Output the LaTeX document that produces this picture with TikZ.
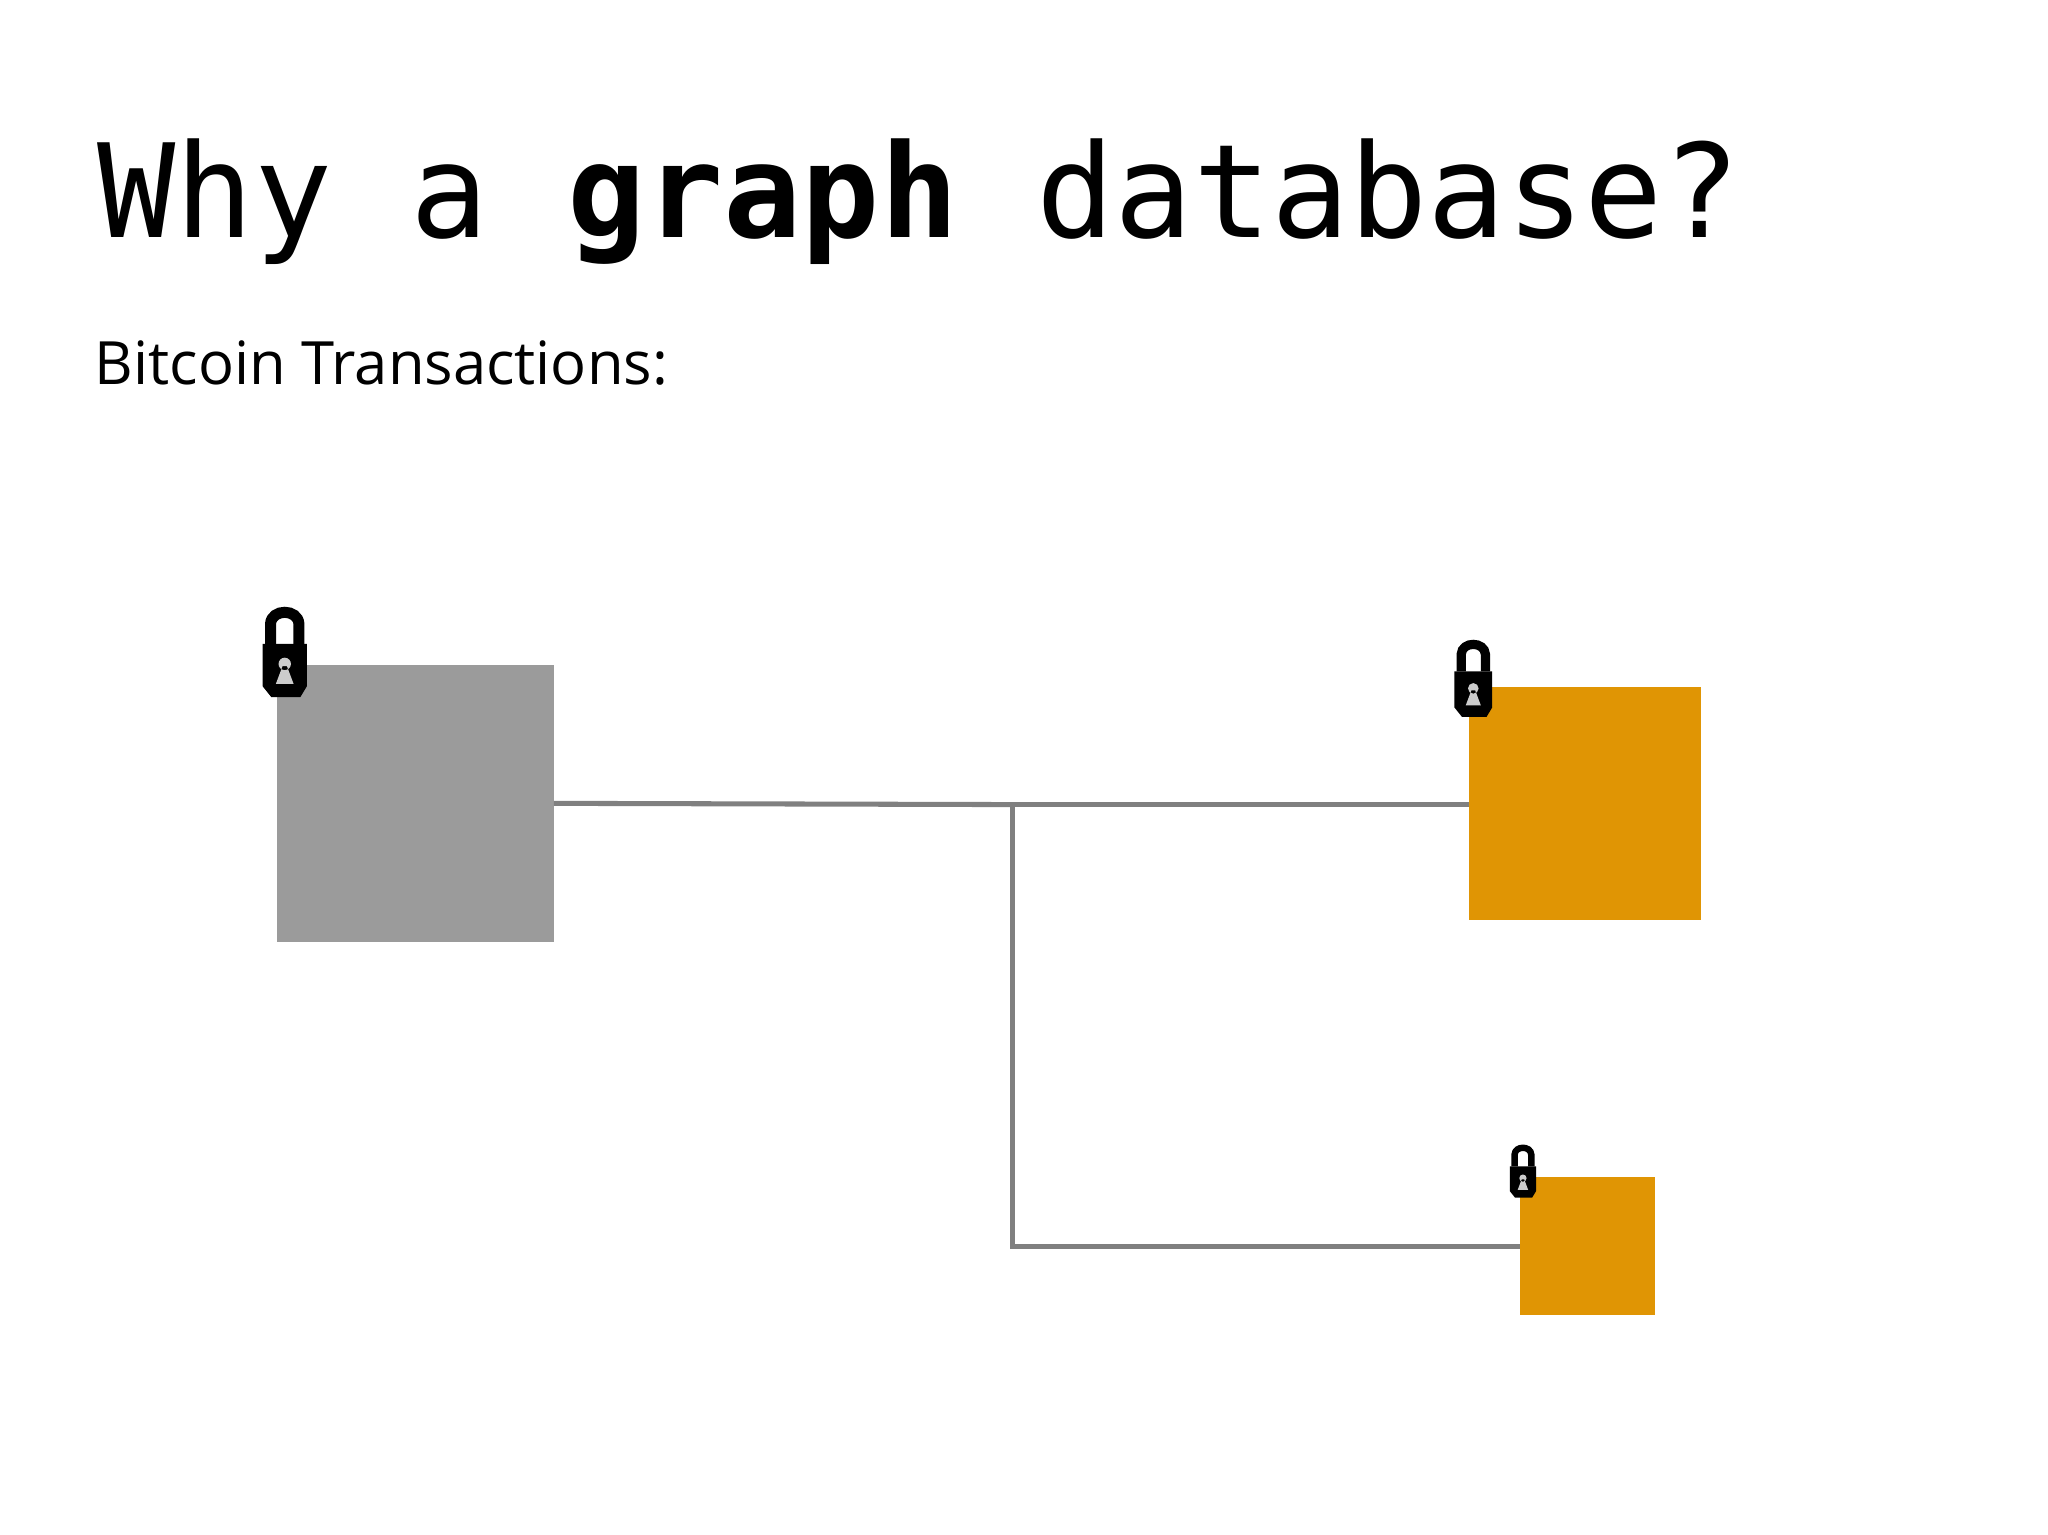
\documentclass[tikz,border=0pt]{standalone}
\usepackage{fontspec}
\newfontfamily\monof{DejaVu Sans Mono}
\newfontfamily\sansf{Open Sans}
\definecolor{boxgray}{HTML}{9B9B9B}
\definecolor{btcorange}{HTML}{E09504}
\definecolor{linegray}{HTML}{808080}
\tikzset{
  tx/.style={inner sep=0pt, outer sep=0pt, draw=none},
  link/.style={draw=linegray, line width=1.1pt},
  pics/lock/.style={code={
    \draw[line width=#1] (-0.32,0) -- (-0.32,0.45) .. controls (-0.3,0.8) and (0.3,0.8) .. (0.32,0.45) -- (0.32,0);
    \fill[black] (-0.5,0) -- (0.5,0) -- (0.5,-0.95) -- (0.35,-1.2) -- (-0.3,-1.2) -- (-0.5,-0.95) -- cycle;
    \fill[white!80!black] (0,-0.45) circle (0.14) (-0.05,-0.5) -- (0.05,-0.5) -- (0.2,-0.9) -- (-0.2,-0.9) -- cycle;
  }}
}
\begin{document}
\begin{tikzpicture}[x=0.01cm,y=-0.01cm]
\useasboundingbox (0,0) rectangle (1568,1175);
\node[anchor=base west, inner sep=0pt] (title) at (74,182) {\monof\fontsize{28.3pt}{30pt}\selectfont Why a \textbf{graph} database?};
\node[anchor=base west, inner sep=0pt] (sub) at (72,294) {\sansf\fontsize{13pt}{15pt}\selectfont Bitcoin Transactions:};
\node[tx, fill=boxgray, minimum width=2.12cm, minimum height=2.12cm, anchor=north west] (a) at (212,509) {};
\node[tx, fill=btcorange, minimum width=1.77cm, minimum height=1.78cm, anchor=north west] (b) at (1125,526) {};
\node[tx, fill=btcorange, minimum width=1.03cm, minimum height=1.06cm, anchor=north west] (c) at (1164,901) {};
\coordinate (j) at (775,616);
\draw[link] (a.east) -- (j);
\draw[link] (j) -- (b.west |- j);
\draw[link] (j) |- (c.west);
\pic[scale=34, yscale=-1] at (218,493) {lock=2.4pt};
\pic[scale=29, yscale=-1] at (1128,514) {lock=2pt};
\pic[scale=20, yscale=-1] at (1166,893) {lock=1.4pt};
\end{tikzpicture}
\end{document}
